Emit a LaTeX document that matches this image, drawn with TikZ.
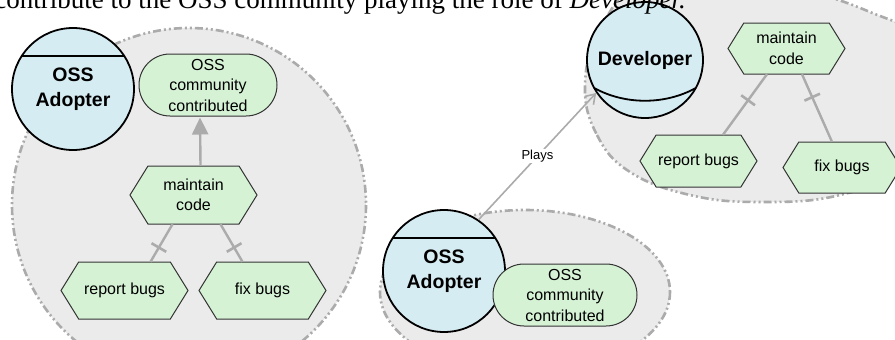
\documentclass[tikz,border=0pt]{standalone}
\usepackage{fontspec}
\setmainfont{Liberation Sans}
\newfontfamily\serifont{Liberation Serif}
\usetikzlibrary{arrows.meta,calc}
\definecolor{actorfill}{HTML}{D6ECF3}
\definecolor{goalfill}{HTML}{D5F2D5}
\definecolor{bndfill}{HTML}{EBEBEB}
\definecolor{bndline}{HTML}{ABABAB}
\definecolor{linkgray}{HTML}{ABABAB}
\definecolor{edgecol}{HTML}{333333}
\tikzset{
 boundary/.style={fill=bndfill, draw=bndline, line width=2.6pt, dash pattern=on 8pt off 3pt on 2pt off 3pt on 2pt off 3pt},
 actor/.style={circle, draw=black, line width=1.8pt, fill=actorfill, inner sep=0pt, align=center, font=\fontsize{19.5}{25}\selectfont\bfseries},
 agent/.style={path picture={\draw[line width=1.8pt] ([yshift=-28pt]path picture bounding box.north west) -- ([yshift=-28pt]path picture bounding box.north east);}},
 softgoal/.style={rectangle, rounded corners=31pt, draw=edgecol, line width=1pt, fill=goalfill, align=center, inner sep=0pt, font=\fontsize{16}{20.5}\selectfont},
 tasktext/.style={inner sep=0pt, align=center, font=\fontsize{16}{20.5}\selectfont},
 taskshape/.style={draw=edgecol, line width=1pt, fill=goalfill},
 link/.style={draw=linkgray, line width=2.4pt},
 xbar/.style={sloped, fill=linkgray, inner sep=0pt, minimum width=2.6pt, minimum height=17pt},
 lbl/.style={inner sep=1pt, fill=white, font=\fontsize{13}{15}\selectfont},
}
\newcommand{\task}[6]{%
  \pgfmathsetmacro{\hw}{#4/2}\pgfmathsetmacro{\hh}{#5/2}\pgfmathsetmacro{\ins}{0.62*#5/2}%
  \path[taskshape] ({#2-\hw},{#3}) -- ({#2-\hw+\ins},{#3-\hh}) -- ({#2+\hw-\ins},{#3-\hh}) -- ({#2+\hw},{#3}) -- ({#2+\hw-\ins},{#3+\hh}) -- ({#2-\hw+\ins},{#3+\hh}) -- cycle;
  \node[tasktext, minimum width=#4, minimum height=#5] (#1) at (#2,#3) {#6};
}
\begin{document}
\begin{tikzpicture}[x=1pt,y=-1pt]
\useasboundingbox (0,0) rectangle (895,340);
\clip (0,0) rectangle (895,340);
% boundaries
\path[boundary] (189,205) circle[radius=177];
\path[boundary] plot[smooth cycle, tension=0.7] coordinates {(585,85) (597,135) (630,172) (690,195) (760,202) (840,195) (910,165) (945,100) (920,40) (870,12) (800,-10) (700,-25) (640,-20) (600,30)};
\path[boundary] (525,292) ellipse[x radius=145, y radius=82];
% left actor
\node[actor, agent, minimum size=122pt] (adl) at (73,89) {OSS\\Adopter};
\node[softgoal, minimum width=138pt, minimum height=62pt] (sgl) at (208,85) {OSS\\community\\contributed};
\task{mcl}{193.5}{195}{127}{58}{maintain\\code}
\task{rbl}{124.5}{290.5}{127}{57}{report bugs}
\task{fbl}{262.5}{290.5}{127}{57}{fix bugs}
\draw[link, -{Triangle[length=17pt,width=16pt]}, shorten >=1pt] ([xshift=7pt]mcl.north) -- ([xshift=-8pt]sgl.south);
\draw[link] ([xshift=-21pt]mcl.south) -- ([xshift=26pt]rbl.north) node[xbar, pos=0.62]{};
\draw[link] ([xshift=27pt]mcl.south) -- ([xshift=-20pt]fbl.north) node[xbar, pos=0.62]{};
% right actor
\node[actor, minimum size=116pt] (dev) at (645,60) {Developer};
\draw[line width=1.8pt] ([shift={(-50.8,28)}]dev.center) .. controls ([shift={(-20,45)}]dev.center) and ([shift={(20,45)}]dev.center) .. ([shift={(50.8,28)}]dev.center);
\task{mcr}{786.5}{48.5}{117}{51}{maintain\\code}
\task{rbr}{698.5}{161}{117}{52}{report bugs}
\task{fbr}{842}{167.5}{118}{51}{fix bugs}
\draw[link] ([xshift=-19.5pt]mcr.south) -- ([xshift=24.5pt]rbr.north) node[xbar, pos=0.43]{};
\draw[link] ([xshift=15.5pt]mcr.south) -- ([xshift=-10pt]fbr.north) node[xbar, pos=0.34]{};
% bottom actor
\node[actor, agent, minimum size=122pt] (adb) at (444,271) {OSS\\Adopter};
\node[softgoal, minimum width=144pt, minimum height=62pt] (sgb) at (565,295) {OSS\\community\\contributed};
\draw[link, line width=1.6pt, -{Straight Barb[length=9pt,width=12pt]}] (adb.56) -- (dev.214) node[lbl, pos=0.5] {Plays};
% caption fragment
\node[anchor=base east, inner sep=0pt, font=\serifont\fontsize{27}{30}\selectfont] (cap) at (686,8.5) {contribute to the OSS community playing the role of \textit{Developer.}};
\end{tikzpicture}
\end{document}
